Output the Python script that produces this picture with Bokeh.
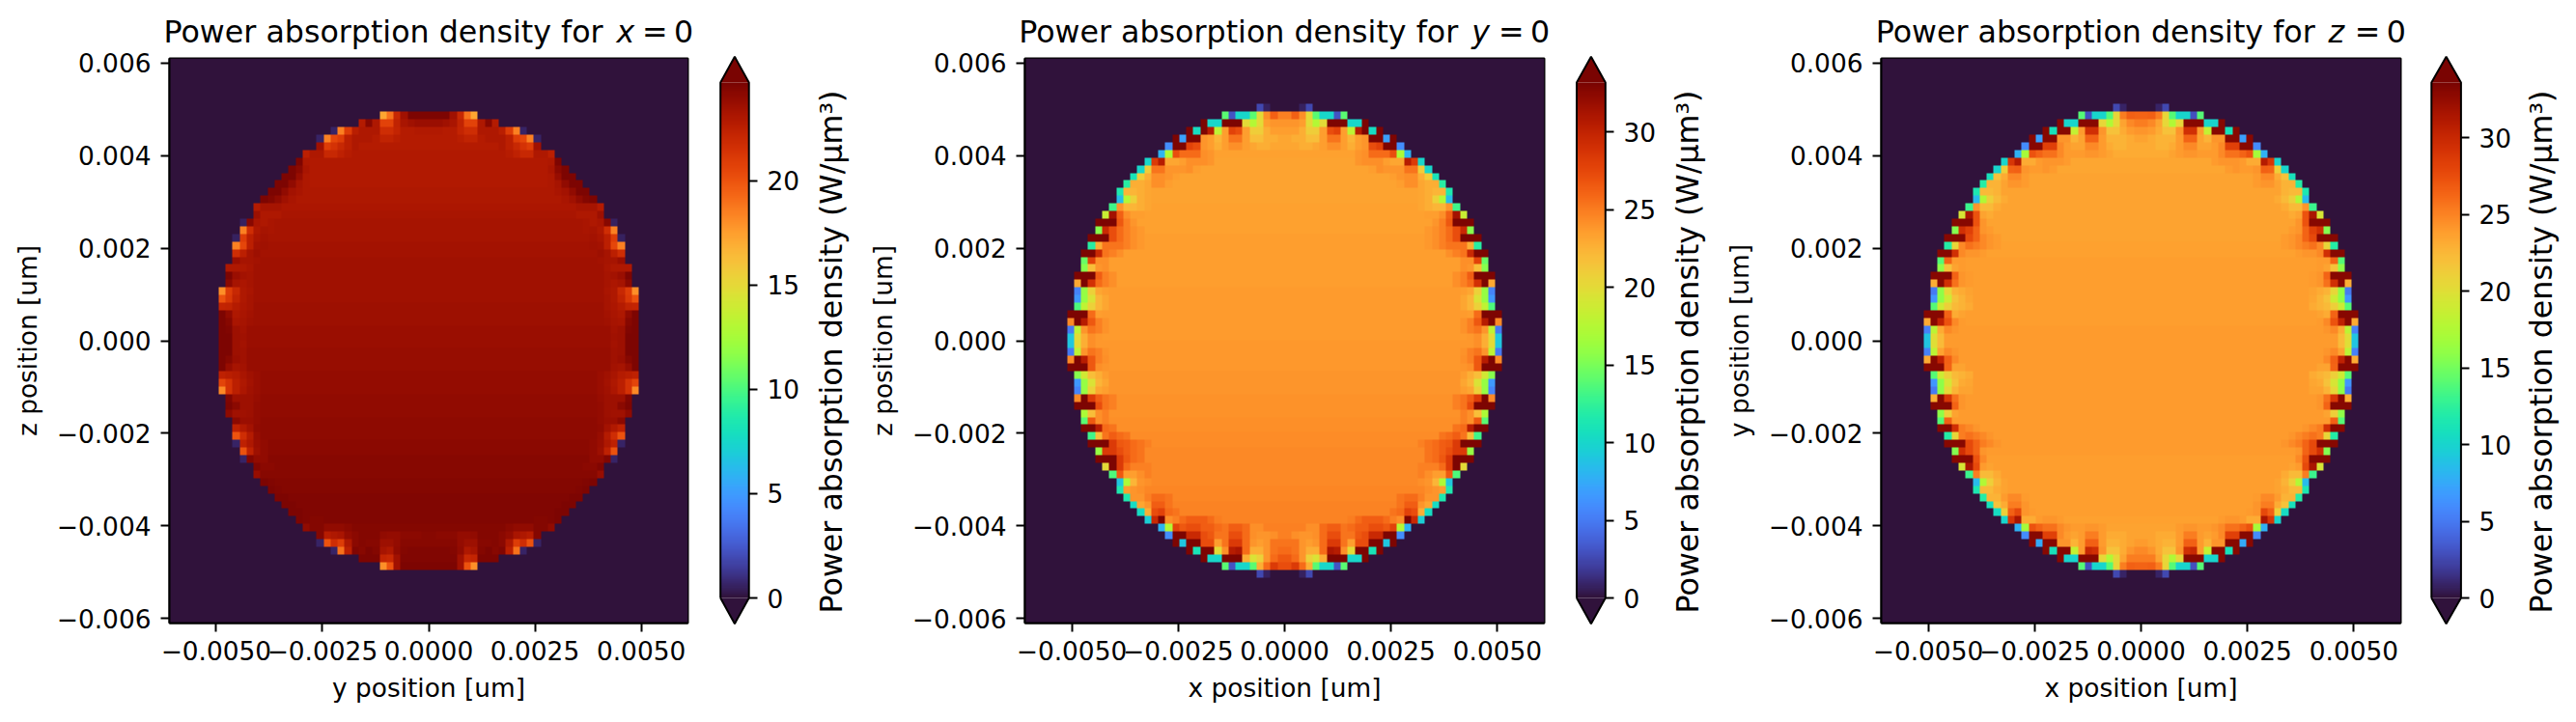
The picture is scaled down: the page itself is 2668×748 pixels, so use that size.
from bokeh.plotting import figure
from bokeh.layouts import row, column
from bokeh.models import FixedTicker, LinearColorMapper, AllLabels
from bokeh.core.properties import value
from bokeh.palettes import Turbo256
from bokeh.embed import file_html
from bokeh.resources import INLINE
import numpy as np
import math

# ---------- data ----------
# each row, top to bottom: (columns out from the centre, [W/um^3 going inward]);
# the last value runs on to the centre, and each row is mirrored about it.
P1_ROWS = [
(7,[17.2,19,22,23.5,24.6]),
(10,[22.8,24.3,23,20.7,20.7,22.3,23.2,23.5,23.7]),
(14,[.6,18.5,21,22.6,23,23,23,21.8,21.8,22.2,22.8,22.8,22.9]),
(16,[.6,18.5,20.5,21,22.5,23,23,23,22.8,22.3,22.3,22.6,22.8]),
(16,[23.5,21,21.5,22,22.5,23,22.8]),
(18,[22.5,23,23,22,22,22.4,22.7,22.9]),
(19,[24.6,23,22.9]),
(20,[24.6,24.2,23.2,22.9]),
(21,[24.6,24.6,23.8,23,22.9]),
(22,[24.6,24.6,24,23.3,23,22.9]),
(23,[24.6,24.6,24,23.4,23.2,23]),
(24,[24.6,24.4,24,23.5,23.2,23]),
(25,[22.8,23.3,23.3,23.3,23.1]),
(25,[23.6,23,23,23,23.2]),
(27,[.5,24.3,23.2,23,23.2,23.3]),
(27,[18.5,21.8,23,23.3,23.2,23.3]),
(28,[.5,21,22.5,23.2,23.4,23.3]),
(28,[18.5,20.5,22.5,23.4,23.5,23.4]),
(28,[21.8,22.5,23.3,23.6,23.4]),
(28,[23.7,23.3,23.3,23.4,23.5]),
(29,[23,23,23,23.2,23.5]),
(29,[24.6,23.7,23.4,23.3,23.5]),
(29,[24.2,23.3,23.1,23.3,23.5]),
(30,[18,21,22,23,23.2,23.5]),
(30,[20,21.2,22.3,23,23.3,23.5]),
(30,[22.2,22.3,22.8,23.1,23.3,23.6]),
(30,[24.6,24,23,23.2,23.4,23.6]),
(30,[24.6,24.3,23.2,23.3,23.5,23.6]),
(30,[24.6,24.5,23.6,23.4,23.7]),
(30,[24.6,24.6,23.6,23.5,23.7]),
(30,[24.6,24.6,23.6,23.4,23.7]),
(30,[24.6,24.6,23.6,23.5,23.8]),
(30,[24.6,24.3,23.7,23.5,23.8]),
(30,[24.6,23.8,23.3,23.4,23.8]),
(30,[22.4,22.6,22.8,23.2,23.5,23.7,23.9]),
(30,[20.6,21.5,22.5,23,23.4,23.7,23.9]),
(30,[18.2,21.5,22.5,23.1,23.5,23.7,23.9]),
(29,[24.5,23.6,23.6,23.6,23.8,24]),
(29,[24.6,24.2,23.6,23.6,23.9,24]),
(29,[24.1,23.5,23.5,23.6,23.9,24]),
(28,[24.2,23.7,23.7,23.9,24.1]),
(28,[22.4,22.9,23.4,24,24.1]),
(28,[20,21.8,22.8,23.8,24.1]),
(28,[.6,22.4,23,23.7,24,24.2]),
(27,[20,22.4,23.6,24,24.2]),
(27,[.6,24.5,24,24,24.3]),
(25,[24.5,24.2,24.2,24.3]),
(25,[23.8,24.3,24.3,24.3]),
(24,[24.6,24.5,24.4]),
(23,[24.6,24.5,24.4]),
(22,[24.6,24.6,24.5]),
(21,[24.6,24.6,24.5]),
(20,[24.6,24.6,24.5]),
(19,[24.6,24.5,24.4,24.4,24.5]),
(18,[24,24.4,24.4,24,24,24,24.2,24.4]),
(16,[24.4,22.7,23,23.2,23.9,24.2,24.4,24.4,24.4,24,23.9,23.9,24.2,24.2,24.2,24.3]),
(16,[.6,20,21.8,21,23,24.2,24.4,24.3,24.3,23.6,23.6,23.9,24.3]),
(14,[.6,19,22.5,24.5,24.3,24.6,24.4,23.3,23,24,24.4,24.5]),
(10,[24.6,24.6,24.6,22.2,22,23.5,24.5]),
(7,[18,20,23.5,24.6]),
]
P2_ROWS = [
(4,[2.5,.7,0]),
(9,[14,3,10,10,14,20,24.2,26.2,24.8]),
(12,[33,10,10,33,33,33,20,17.5,20,23.6,23.9]),
(14,[33,10.5,33,30.5,18,23.6,27.8,27.2,23.6,21,21,22.8,23.6]),
(16,[33,7,33,33,23.9,23.6,22.4,23.6,25.3,25.3,23.6,21.9,21.9,22.8,22.8,23.2]),
(17,[6,33,33,27.8,27.2,23.9,23.6,22.8,23.6,24.2,24.2,23.6,23.2,22.8,22.8,23.2]),
(18,[8,17,27.2,25.8,25.8,25.8,24.2,23.9,23.4]),
(20,[10,28.3,30.5,23.2,23.2,23.6,24.2,24.2,24.2,23.9,23.3]),
(21,[10,21,25.3,25.3,23.9,23.9,23.9,24.2,23.6,23.3]),
(22,[11,21,22.8,24.2,24.2,23.9,23.6,23.3]),
(23,[12,22.8,22.8,23.2,24.2,24.2,23.6,23.3]),
(24,[11.5,22.4,22.4,22.8,23.2,23.3]),
(24,[8.5,17.5,20.7,22.8,23.2,23.3]),
(25,[13,23.9,22.4,22.4,22.8,23.2,23.4]),
(26,[18.5,31.5,26.2,24.2,23.6,23.6,23.4]),
(27,[33,33,33,26.6,24.8,23.9,23.4]),
(27,[15.5,29.5,27.2,25.8,24.8,24.2,23.8,23.4]),
(28,[33,33,33,27.2,25.8,24.8,24.2,23.8,23.5]),
(28,[12,22.8,25.3,25.3,25.3,24.8,24.2,23.8,23.5]),
(29,[33,33,29.5,25.3,24.8,24.2,23.5]),
(29,[14.5,27.8,24.2,24.2,23.6]),
(29,[15.5,21.9,23.9,24.2,23.6]),
(30,[33,33,33,26.4,24.8,24.2,23.6]),
(30,[23,33,29,25.8,24.8,24.2,23.6]),
(30,[5.5,16,20.7,23.2,23.6,23.7,23.7]),
(30,[6.5,16,19.5,22.4,23.2,23.7]),
(30,[13.5,18,20.7,22.4,23.2,23.7]),
(31,[33,33,33,25.8,23.6,23.7,23.7]),
(31,[24.4,33,30.5,26.6,24.8,24,23.7]),
(31,[5,18,23.9,25.3,24.8,24,23.7]),
(31,[9,20,22.8,24.2,23.8,23.7]),
(31,[9,20,22.8,24.2,23.8]),
(31,[5,18,23.9,25.3,24.8,24,23.8]),
(31,[24.4,33,30.5,26.6,24.8,24.2,23.8]),
(31,[33,33,33,26.6,24.2,23.9,23.8]),
(30,[15.5,19,21.9,22.8,23.6,23.9,23.9]),
(30,[6.5,16,19.5,22.4,23.2,23.9]),
(30,[5.5,16,20.7,23.2,23.6,23.9]),
(30,[24.4,33,28.3,26.4,25.3,24.8,24]),
(30,[33,33,33,27.2,25.3,24.8,24.1]),
(29,[17,21.9,24.2,24.8,24.1]),
(29,[14,26.6,24.2,24.8,24.2]),
(29,[33,33,30.5,25.8,25.3,24.2]),
(28,[13,21.9,25.3,26.4,25.8,25.3,24.3]),
(28,[33,33,33,28.3,26.6,26.4,25.8,25.3,24.8,24.3]),
(27,[16,28.3,28.3,27.2,26.4,25.8,25.3,24.4]),
(27,[33,33,33,28.3,26.6,25.8,25.3,24.4]),
(26,[20,33,28.3,25.8,24.8,24.8,24.8,24.4]),
(25,[13.5,26.6,23.6,23.6,24.2,24.8,24.5]),
(24,[9,17,22.4,23.9,24.2,24.5]),
(24,[11.5,23.6,23.9,24.2,24.6]),
(23,[11.5,23.9,23.9,24.8,25.8,25.8,25.3,24.6]),
(22,[10.5,23.2,23.9,26.4,26.4,25.3,24.7]),
(21,[10.5,22.8,27.2,27.8,25.8,25.3,24.7]),
(20,[9.5,29.5,33,24.2,24.8,25.8,26.4,26.4,26.4,25.8,25,24.7]),
(18,[8,17.5,27.8,26.6,27.2,27.2,26.4,26.4,25.8,25.3,26.4,26.4,25.8,24.2,24.2,24.8]),
(17,[6,33,33,29.5,29.5,27.2,26.6,25.3,25.3,27.2,27.2,25.8,24.2,23.9,23.9,24.2,24.8]),
(16,[33,9,33,33,27.2,27.2,23.6,25.3,28.3,28.3,25.8,23.9,23.6,23.9,25.3,25.3]),
(14,[33,11,33,33,20,24.2,30.5,31,25.8,22.8,22.8,23.9,25.3,25.8]),
(12,[33,10,10,33,33,33,22.8,19.5,20.7,23.9,25.8,26.6]),
(9,[14,3,10,10,14,22.8,25.8,28.3,27.2]),
(4,[2.5,.7,0]),
]
P3_ROWS = [
(4,[2.5,.8,0]),
(9,[14,3,10,10,14,20.7,25.3,26.6,26.4]),
(12,[33,10,10,33,33,33,20.5,17.5,20.5,23.6,24.8,25.3]),
(14,[33,11,33,33,18.5,23.9,29.5,29.5,24.2,21.9,21.9,23.2,23.9,24.2]),
(16,[33,7,33,33,24.2,24.2,22.8,23.6,26.4,26.4,23.9,22.8,22.8,22.8,23.2,23.6]),
(17,[6,33,33,28.3,28.3,24.8,23.9,23.6,23.6,24.8,24.8,23.9,23.2,22.8,22.8,23.2]),
(18,[8,17,27.2,26.4,25.8,25.8,24.8,23.9,23.9,23.9,24.2,24.2,23.9,23.6,23.2]),
(20,[10,29,31,23.2,23.2,23.9,24.2,24.2,24.2,23.9,23.4]),
(21,[10,21,26.4,26.6,24.2,23.9,23.9,24.2,23.9,23.4]),
(22,[11,21.9,23.2,24.8,24.8,23.9,23.5]),
(23,[12,22.8,22.8,23.6,24.2,24.2,23.9,23.5]),
(24,[11.5,22.4,22.4,22.8,23.6,23.6]),
(24,[8.5,17.5,21,22.4,23.2,23.6]),
(25,[13,24.2,22.4,22.4,23.2,23.6]),
(26,[19.5,31.5,27.2,23.6,23.2,23.6]),
(27,[33,33,33,27.2,24.2,23.6]),
(27,[15.5,29.5,28.3,26.4,24.2,23.9,23.6]),
(28,[33,33,33,27.8,26.4,24.8,24.2,23.9,23.6]),
(28,[12,20.7,24.8,25.8,25.3,24.8,24.2,23.9,23.7]),
(29,[33,33,29.5,24.8,24.2,24.2,24,23.7]),
(29,[14,26.4,23.9,23.9,23.8]),
(29,[16,21.9,23.6,23.9,23.8]),
(30,[33,33,33,26.4,24.2,23.9,23.8]),
(30,[23,33,29.5,25.8,24.2,23.9,23.8]),
(30,[5,16,20.5,22.8,23.2,23.6,23.8]),
(30,[6.5,16,19,21.9,22.8,23.4,23.8]),
(30,[14,19,21,22.4,22.8,23.2,23.8]),
(31,[33,33,33,26.4,23.2,23.6,23.8]),
(31,[23.2,33,30.5,27.2,24.8,23.9,23.8]),
(31,[5.5,18,23.2,24.8,24.2,23.9]),
(31,[9,20,22.4,23.9,24,23.9]),
(31,[9,20,22.4,23.9,23.9]),
(31,[5.5,18,23.6,24.8,24.2,23.9]),
(31,[23.2,33,30.5,26.6,24.8,23.9]),
(31,[33,33,33,26.4,23.6,23.6,23.9]),
(30,[14,19,21,22.4,22.8,23.2,23.9]),
(30,[6.5,16,19.5,21.9,23.2,23.4,23.9]),
(30,[5,16,20.5,22.8,23.6,23.6,23.9]),
(30,[23,33,29,25.8,24.2,23.9]),
(30,[33,33,33,26.4,24.2,23.9]),
(29,[16,21,23.6,23.9]),
(29,[14,26.6,23.9,23.9]),
(29,[33,33,29.5,25.3,24.8,24.2,24,23.9]),
(28,[12,20.7,25.3,25.8,25.3,24.8,24.2,23.9]),
(28,[33,33,33,27.8,26.4,25.3,24.8,24.2,23.9]),
(27,[15.5,29.5,27.8,26.4,24.2,23.9]),
(27,[33,33,33,27.2,24.8,23.8]),
(26,[19.5,31.5,27.8,23.9,23.6,23.8]),
(25,[13,25.3,22.4,22.4,23.2,23.8]),
(24,[8.5,17.5,21,22.8,23.6,23.8]),
(24,[11.5,22.4,22.4,23.2,23.6,23.8]),
(23,[12,22.8,22.8,23.9,24.8,24.8,23.9,23.8]),
(22,[11,21.9,23.2,25.3,25.3,24.2,23.8]),
(21,[10.5,21,26.6,27.8,24.2,23.9,23.8]),
(20,[10,29,31.5,23.2,23.2,23.9,24.2,24.2,23.9,23.7]),
(18,[8,17,27.2,26.4,25.8,25.8,24.8,24.2,23.9,23.9,24.2,24.2,23.9,23.6]),
(17,[6,33,33,28.3,28.3,24.8,23.9,23.6,23.9,25.3,25.3,23.9,23.2,23.2,23.2,23.6]),
(16,[33,7.5,33,33,24.2,24.2,22.8,23.9,26.6,26.6,23.9,22.8,22.8,23.2,23.6,23.9]),
(14,[33,11,33,33,18.5,23.9,30,29.5,24.2,21.9,21.9,23.2,24.2,24.8]),
(12,[33,10,10,33,33,33,20.5,17.5,20.5,23.6,25.3]),
(9,[14,3,10,10,14,20.7,25.3,26.6,26.4]),
(4,[2.5,.8,0]),
]
VMAX = [24.7, 33.2, 33.6]
COLORBAR_TICKS = [[0, 5, 10, 15, 20], [0, 5, 10, 15, 20, 25, 30], [0, 5, 10, 15, 20, 25, 30]]
X_TICKS = [-0.005, -0.0025, 0, 0.0025, 0.005]
X_TICK_LABELS = ["\u22120.0050", "\u22120.0025", "0.0000", "0.0025", "0.0050"]
Y_TICKS = [-0.006, -0.004, -0.002, 0, 0.002, 0.004, 0.006]
Y_TICK_LABELS = ["\u22120.006", "\u22120.004", "\u22120.002", "0.000", "0.002", "0.004", "0.006"]
TITLE_TEXT = "Power absorption density for"
TITLE_VARS = ["x", "y", "z"]
TITLE_END = "=\u20090"
X_LABELS = ["y position [um]", "x position [um]", "x position [um]"]
Y_LABELS = ["z position [um]", "z position [um]", "y position [um]"]
CB_LABEL = "Power absorption density (W/\u03bcm\u00b3)"
EXTENT = 0.0061
CELLS = 74

# ---------- layout (page pixels) ----------
FONT = "DejaVu Sans"
TICK_PX, LABEL_PX, TITLE_PX = "26.4px", "26.4px", "31.7px"
TITLE_H = 51
TOP, FRAME_H, BOTTOM = 60, 585, 95
HEIGHT = TOP + FRAME_H + BOTTOM
TOTAL_W = 2660
PANELS = [
    dict(start=0, left=175, w=537, end=735, title_x=169, var_x=638, eq_x=664.6,
         cb_left=744, cb_w=33, body=(745.7, 775.2), lab_start=838, lab_x=860.5, lab_end=885),
    dict(start=885, left=1061, w=538, end=1620, title_x=1054.7, var_x=1523.7, eq_x=1551.6,
         cb_left=1631, cb_w=33, body=(1632.5, 1662.3), lab_start=1722, lab_x=1747, lab_end=1770),
    dict(start=1770, left=1948, w=538, end=2505, title_x=1942.2, var_x=2411, eq_x=2438.3,
         cb_left=2516, cb_w=34, body=(2517.8, 2548.4), lab_start=2610, lab_x=2631.2, lab_end=2660),
]

def to_grid(rows):
    grid = np.zeros((CELLS, CELLS))
    half = CELLS // 2
    n = len(rows) // 2
    for i, (col, vals) in enumerate(rows):
        r = half + n - 1 - i
        for k in range(col):
            v = vals[k] if k < len(vals) else vals[-1]
            grid[r, half - col + k] = v
            grid[r, CELLS - 1 - (half - col + k)] = v
    return grid

def style_axis(ax, size):
    ax.major_label_text_font = FONT
    ax.major_label_text_font_size = size
    ax.major_label_text_color = "black"
    ax.axis_label_text_font = FONT
    ax.axis_label_text_font_size = LABEL_PX
    ax.axis_label_text_font_style = "normal"
    ax.axis_label_text_color = "black"
    ax.major_tick_line_color = "black"
    ax.major_tick_line_width = 2
    ax.minor_tick_line_color = None
    ax.axis_line_color = "black"
    ax.axis_line_width = 2
    ax.major_label_policy = AllLabels()

def titles_fig():
    p = figure(frame_width=TOTAL_W, frame_height=TITLE_H, output_backend="svg", toolbar_location=None,
               x_range=(0, TOTAL_W), y_range=(TITLE_H, 0),
               x_axis_type=None, y_axis_type=None, min_border=0, outline_line_color=None)
    p.grid.visible = False
    mid = 32.5
    for i, g in enumerate(PANELS):
        p.text(x=[g["title_x"], g["eq_x"]], y=[mid, mid], text=[TITLE_TEXT, TITLE_END],
               text_font=value(FONT), text_font_size=TITLE_PX, text_baseline="middle", text_color="black")
        p.text(x=[g["var_x"]], y=[mid], text=[TITLE_VARS[i]], text_font=value(FONT), text_font_size=TITLE_PX,
               text_font_style="italic", text_baseline="middle", text_color="black")
    return p

def main_fig(i, rows, vmax):
    g = PANELS[i]
    p = figure(frame_width=g["w"], frame_height=FRAME_H, output_backend="svg", toolbar_location=None,
               x_range=(-EXTENT, EXTENT), y_range=(-EXTENT, EXTENT),
               min_border_left=g["left"] - g["start"], min_border_right=g["end"] - g["left"] - g["w"],
               min_border_top=TOP - TITLE_H, min_border_bottom=BOTTOM,
               x_axis_label=X_LABELS[i], y_axis_label=Y_LABELS[i])
    p.grid.visible = False
    p.outline_line_color = "black"
    p.outline_line_width = 2
    cm = LinearColorMapper(palette=Turbo256, low=0, high=vmax)
    p.image(image=[to_grid(rows)], x=-EXTENT, y=-EXTENT, dw=2 * EXTENT, dh=2 * EXTENT, color_mapper=cm)
    for ax, ticks, labels in ((p.xaxis[0], X_TICKS, X_TICK_LABELS), (p.yaxis[0], Y_TICKS, Y_TICK_LABELS)):
        style_axis(ax, TICK_PX)
        ax.ticker = FixedTicker(ticks=ticks)
        ax.major_label_overrides = dict(zip(ticks, labels))
        ax.major_tick_in = 0
        ax.major_tick_out = 9
        ax.major_label_standoff = 10
    p.xaxis[0].major_label_standoff = 9
    p.xaxis[0].axis_label_standoff = 10
    p.yaxis[0].axis_label_standoff = 12
    return p

def cb_fig(i, vmax):
    g = PANELS[i]
    b0, b1 = g["body"]
    bw = b1 - b0
    top_y, zero_y = 85.0, 619.0
    frame_top, frame_bot = 56, 649
    s = (zero_y - top_y) / vmax
    x_range = (-(b0 - g["cb_left"]) / bw, 1 + (g["cb_left"] + g["cb_w"] - b1) / bw)
    y_range = (-(frame_bot - zero_y) / s, vmax + (top_y - frame_top) / s)
    p = figure(frame_width=g["cb_w"], frame_height=frame_bot - frame_top, output_backend="svg",
               toolbar_location=None, x_range=x_range, y_range=y_range,
               min_border_left=g["cb_left"] - g["end"],
               min_border_right=g["lab_start"] - g["cb_left"] - g["cb_w"],
               min_border_top=frame_top - TITLE_H, min_border_bottom=HEIGHT - frame_bot,
               x_axis_type=None, y_axis_location="right")
    p.grid.visible = False
    p.outline_line_color = None
    cm = LinearColorMapper(palette=Turbo256, low=0, high=vmax)
    grad = np.linspace(0, vmax, 256).reshape(256, 1)
    p.image(image=[grad], x=0, y=0, dw=1, dh=vmax, color_mapper=cm)
    p.patch([0, .5, 1], [vmax, vmax * 1.05, vmax], color=Turbo256[255], line_color=None)
    p.patch([0, .5, 1], [0, -vmax * .05, 0], color=Turbo256[0], line_color=None)
    p.line([0, 0, .5, 1, 1, .5, 0], [0, vmax, vmax * 1.05, vmax, 0, -vmax * .05, 0], line_color="black", line_width=2)
    ax = p.yaxis[0]
    style_axis(ax, TICK_PX)
    ax.axis_line_color = None
    ax.ticker = FixedTicker(ticks=COLORBAR_TICKS[i])
    ax.major_tick_in = 2
    ax.major_tick_out = 7
    ax.major_label_standoff = 10
    return p

def cb_label_fig(i):
    g = PANELS[i]
    p = figure(frame_width=g["lab_end"] - g["lab_start"], frame_height=HEIGHT - TITLE_H, output_backend="svg",
               toolbar_location=None, x_range=(g["lab_start"], g["lab_end"]), y_range=(HEIGHT, TITLE_H),
               x_axis_type=None, y_axis_type=None, min_border=0, outline_line_color=None)
    p.grid.visible = False
    p.text(x=[g["lab_x"]], y=[364], text=[CB_LABEL], angle=[math.pi / 2], text_font=value(FONT),
           text_font_size=TITLE_PX, text_align="center", text_baseline="middle", text_color="black")
    return p

children = []
for i, rows in enumerate((P1_ROWS, P2_ROWS, P3_ROWS)):
    children.append(column(main_fig(i, rows, VMAX[i]), spacing=0))
    children.append(column(cb_fig(i, VMAX[i]), spacing=0))
    children.append(column(cb_label_fig(i), spacing=0))
layout = column(titles_fig(), row(children, spacing=0), spacing=0)
open("out.html", "w").write(file_html(layout, INLINE))
